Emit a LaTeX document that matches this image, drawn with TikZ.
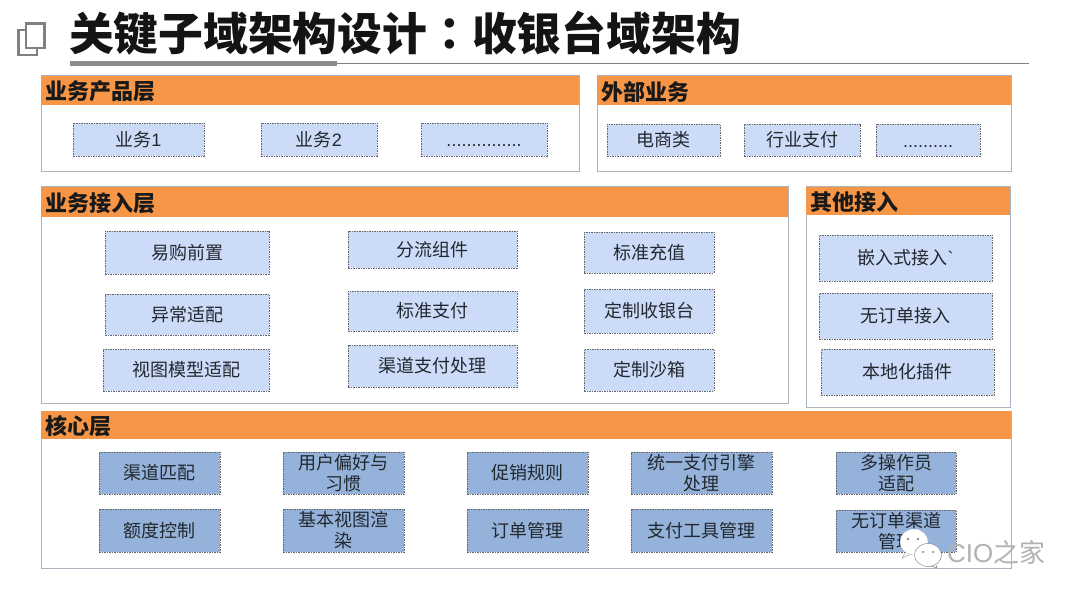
\documentclass[tikz,border=0pt]{standalone}
\usepackage{fontspec}
\setmainfont{Noto Sans CJK SC}
\newfontfamily\latf{Liberation Sans}
\newfontfamily\tcf{Noto Sans CJK TC}
\definecolor{hdr}{HTML}{F79646}
\definecolor{lt}{HTML}{CCDBF7}
\definecolor{dk}{HTML}{95B2DA}
\definecolor{edge}{HTML}{A9B4C0}
\definecolor{ink}{HTML}{22282F}
\tikzset{
  x=1pt,y=-1pt,
  every node/.style={inner sep=0pt,outer sep=0pt},
  panelbody/.style={draw=edge,line width=1pt,fill=white,anchor=north west},
  panelhead/.style={fill=hdr,anchor=north west,text=black!90,font=\bfseries\fontsize{22}{25}\selectfont,align=left,text depth=0pt},
  ltbox/.style={draw=black!60,dash pattern=on 1.5pt off 1pt,line width=.7pt,fill=lt,text=ink,align=center,font=\fontsize{18}{21}\selectfont},
  dkbox/.style={draw=black!60,dash pattern=on 1.5pt off 1pt,line width=.7pt,fill=dk,text=ink,align=center,font=\fontsize{18}{21}\selectfont},
}
% name, style, x1, y1, x2, y2, text
\newcommand{\bx}[7]{%
  \pgfmathsetmacro{\bw}{#5-#3}\pgfmathsetmacro{\bh}{#6-#4}%
  \node[#2,minimum width=\bw pt,minimum height=\bh pt,anchor=center] (#1) at ({(#3+#5)/2},{(#4+#6)/2}) {#7};}
% name, x1, x2, y1, yhead, y2, title
\newcommand{\panel}[7]{%
  \pgfmathsetmacro{\bw}{#3-#2}\pgfmathsetmacro{\bh}{#6-#4}\pgfmathsetmacro{\hh}{#5-#4}%
  \node[panelbody,minimum width=\bw pt,minimum height=\bh pt] (#1) at (#2,#4) {};
  \node[panelhead,minimum width=\bw pt,minimum height=\hh pt,text width=\bw pt-9pt,inner xsep=4.5pt] (#1h) at (#2,#4) {#7};}
\begin{document}
\begin{tikzpicture}
\useasboundingbox (0,0) rectangle (1080,599);
\fill[white] (0,0) rectangle (1080,599);
% title
\draw[black!50,line width=2.4pt] (18.5,30) rectangle (37,55);
\draw[black!50,line width=2.4pt,fill=white] (26,23.5) rectangle (44.5,48);
\node[anchor=west,font=\bfseries\fontsize{44.8}{48}\selectfont,text=black!92] (title) at (69,33) {关键子域架构设计{\tcf ：}收银台域架构};
\coordinate (ruleA) at (70,63.5);
\coordinate (ruleB) at (337,63.5);
\coordinate (ruleC) at (1029,63.5);
\draw[black!50,line width=1pt] (ruleB) -- (ruleC);
\draw[black!45,line width=5.5pt] (ruleA) -- (ruleB);
% panels
\panel{pa}{41}{579}{76}{105}{172}{业务产品层}
\panel{pb}{597}{1011}{76}{105}{172}{外部业务}
\panel{pc}{41}{788}{187}{217}{403}{业务接入层}
\panel{pd}{806}{1010}{187}{215}{407}{其他接入}
\panel{pe}{41}{1011}{411}{439}{568}{核心层}
% product
\bx{a1}{ltbox}{73}{123}{204}{156}{业务{\latf 1}}
\bx{a2}{ltbox}{261}{123}{377}{156}{业务{\latf 2}}
\bx{a3}{ltbox}{421}{123}{547}{156}{\vphantom{业}{\latf ...............}}
% external
\bx{b1}{ltbox}{607}{124}{720}{156}{电商类}
\bx{b2}{ltbox}{744}{124}{860}{156}{行业支付}
\bx{b3}{ltbox}{876}{124}{980}{156}{\vphantom{业}{\latf ..........}}
% access
\bx{c1}{ltbox}{105}{231}{269}{274}{易购前置}
\bx{c2}{ltbox}{348}{231}{517}{268}{分流组件}
\bx{c3}{ltbox}{584}{232}{714}{273}{标准充值}
\bx{c4}{ltbox}{105}{294}{269}{335}{异常适配}
\bx{c5}{ltbox}{348}{291}{517}{331}{标准支付}
\bx{c6}{ltbox}{584}{289}{714}{333}{定制收银台}
\bx{c7}{ltbox}{103}{349}{269}{391}{视图模型适配}
\bx{c8}{ltbox}{348}{345}{517}{387}{渠道支付处理}
\bx{c9}{ltbox}{584}{349}{714}{391}{定制沙箱}
% other
\bx{d1}{ltbox}{819}{235}{992}{281}{嵌入式接入{\latf \char`\`}}
\bx{d2}{ltbox}{819}{293}{992}{339}{无订单接入}
\bx{d3}{ltbox}{821}{349}{994}{395}{本地化插件}
% core
\bx{e1}{dkbox}{99}{452}{220}{494}{渠道匹配}
\bx{e2}{dkbox}{283}{452}{404}{494}{用户偏好与\\习惯}
\bx{e3}{dkbox}{467}{452}{588}{494}{促销规则}
\bx{e4}{dkbox}{631}{452}{772}{494}{统一支付引擎\\处理}
\bx{e5}{dkbox}{836}{452}{956}{494}{多操作员\\适配}
\bx{e6}{dkbox}{99}{509}{220}{552}{额度控制}
\bx{e7}{dkbox}{283}{509}{404}{552}{基本视图渲\\染}
\bx{e8}{dkbox}{467}{509}{588}{552}{订单管理}
\bx{e9}{dkbox}{631}{509}{772}{552}{支付工具管理}
\bx{e10}{dkbox}{836}{510}{956}{552}{无订单渠道\\管理}
% watermark
\fill[white,draw=black!20,line width=.4pt] (914,542) ellipse (14 and 13);
\fill[black!60] (908,539) circle (1.2) (918,539) circle (1.2);
\draw[black!35,line width=.5pt] (906,552) -- (902,558) -- (911,554);
\fill[white,draw=black!45,line width=.5pt] (928,555) ellipse (13.5 and 11.5);
\fill[black!55] (923,552) circle (1) (933,552) circle (1);
\draw[black!45,line width=.5pt] (931,566) -- (937,568) -- (936,565);
\node[anchor=west,font=\fontsize{26}{28}\selectfont,text=black!30] (wm) at (947,552) {{\latf CIO}之家};
\end{tikzpicture}
\end{document}
